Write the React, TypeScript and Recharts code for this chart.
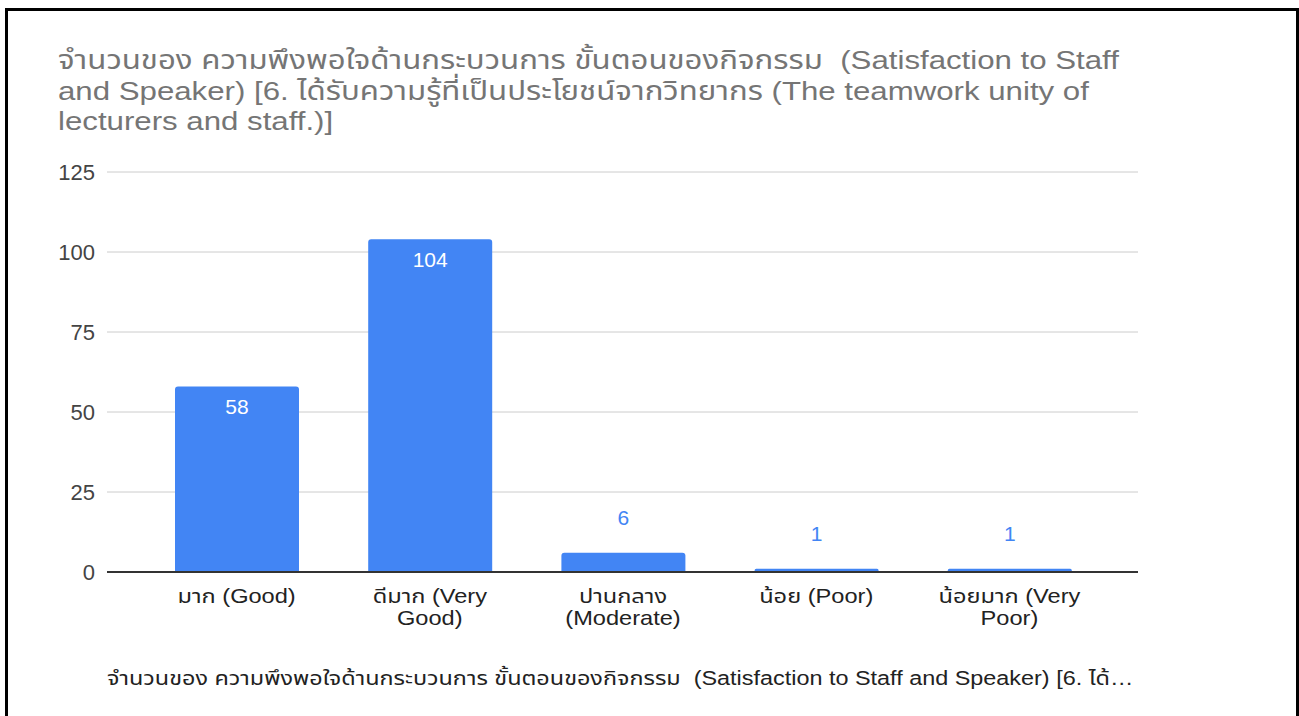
import { Bar, BarChart, CartesianGrid, LabelList, XAxis, YAxis } from 'recharts'

const CATEGORIES = [
  'มาก (Good)',
  'ดีมาก (Very\nGood)',
  'ปานกลาง\n(Moderate)',
  'น้อย (Poor)',
  'น้อยมาก (Very\nPoor)'
]
const COUNTS = [58, 104, 6, 1, 1]
const Y_TICKS = [0, 25, 50, 75, 100, 125]

const TITLE_LINES = [
  'จำนวนของ ความพึงพอใจด้านกระบวนการ ขั้นตอนของกิจกรรม  (Satisfaction to Staff',
  'and Speaker) [6. ได้รับความรู้ที่เป็นประโยชน์จากวิทยากร (The teamwork unity of',
  'lecturers and staff.)]'
]
const LEGEND_TEXT =
  'จำนวนของ ความพึงพอใจด้านกระบวนการ ขั้นตอนของกิจกรรม  (Satisfaction to Staff and Speaker) [6. ได้…'

const BLUE = '#4285f4'
const FONT = '"Liberation Sans", Arial, "Noto Sans Thai", "Noto Sans", sans-serif'
// ตัวอักษรในภาพต้นฉบับกว้างกว่า Liberation Sans ราว 18-20%
const WIDE = 1.18

const data = CATEGORIES.map((name, i) => ({ name, count: COUNTS[i] }))

function WrappedTick({ x, y, payload }: { x?: number; y?: number; payload?: { value: string } }) {
  const lines = String(payload?.value ?? '').split('\n')
  return (
    <g transform={`translate(${x ?? 0} ${y ?? 0}) scale(${WIDE} 1)`}>
      <text x={0} y={0} textAnchor="middle" fill="#222" fontSize={20} fontFamily={FONT}>
        {lines.map((l, i) => (
          <tspan key={i} x={0} dy={i === 0 ? 23 : 22}>
            {l}
          </tspan>
        ))}
      </text>
    </g>
  )
}

// ค่าที่แท่งสูงพอจะอยู่ในแท่ง (ขาว), แท่งเตี้ยอยู่เหนือแท่ง (ฟ้า)
function CountLabel(props: any) {
  const { x, y, width, height, value } = props
  const inside = height > 40
  return (
    <text
      x={x + width / 2}
      y={inside ? y + 20 : y - 35}
      textAnchor="middle"
      dominantBaseline="central"
      fill={inside ? '#fff' : BLUE}
      fontSize={21}
      fontFamily={FONT}
    >
      {value}
    </text>
  )
}

export default function App() {
  return (
    <div style={{ position: 'absolute', left: 0, top: 0, width: 1299, height: 716, background: '#fff', overflow: 'hidden', fontFamily: FONT }}>
      <div
        style={{
          position: 'absolute',
          left: 5,
          top: 8,
          width: 1288,
          height: 760,
          border: '3px solid #000'
        }}
      />
      <div
        style={{
          position: 'absolute',
          left: 58,
          top: 45,
          color: '#757575',
          fontSize: 26,
          lineHeight: '30.5px',
          whiteSpace: 'pre',
          transform: 'scaleX(1.2)',
          transformOrigin: 'left top'
        }}
      >
        {TITLE_LINES.map((l, i) => (
          <div key={i}>{l}</div>
        ))}
      </div>
      <div style={{ position: 'absolute', left: 0, top: 0 }}>
        <BarChart width={1299} height={716} data={data} margin={{ top: 172, right: 161, bottom: 74, left: 0 }}>
          <CartesianGrid vertical={false} stroke="#cccccc" />
          <XAxis
            dataKey="name"
            interval={0}
            height={70}
            padding={{ left: 33, right: 32 }}
            axisLine={{ stroke: '#333', strokeWidth: 2 }}
            tickLine={false}
            tick={<WrappedTick />}
          />
          <YAxis
            width={107}
            domain={[0, 125]}
            ticks={Y_TICKS}
            axisLine={false}
            tickLine={false}
            tickSize={0}
            tickMargin={12}
            tick={{ fill: '#444', fontSize: 22, fontFamily: FONT }}
          />
          <Bar dataKey="count" fill={BLUE} barSize={124} radius={[3, 3, 0, 0]} isAnimationActive={false}>
            <LabelList dataKey="count" content={<CountLabel />} />
          </Bar>
        </BarChart>
      </div>
      <div
        style={{
          position: 'absolute',
          left: 107,
          top: 664,
          color: '#222',
          fontSize: 20,
          whiteSpace: 'pre',
          transform: 'scaleX(1.17)',
          transformOrigin: 'left top'
        }}
      >
        {LEGEND_TEXT}
      </div>
    </div>
  )
}
